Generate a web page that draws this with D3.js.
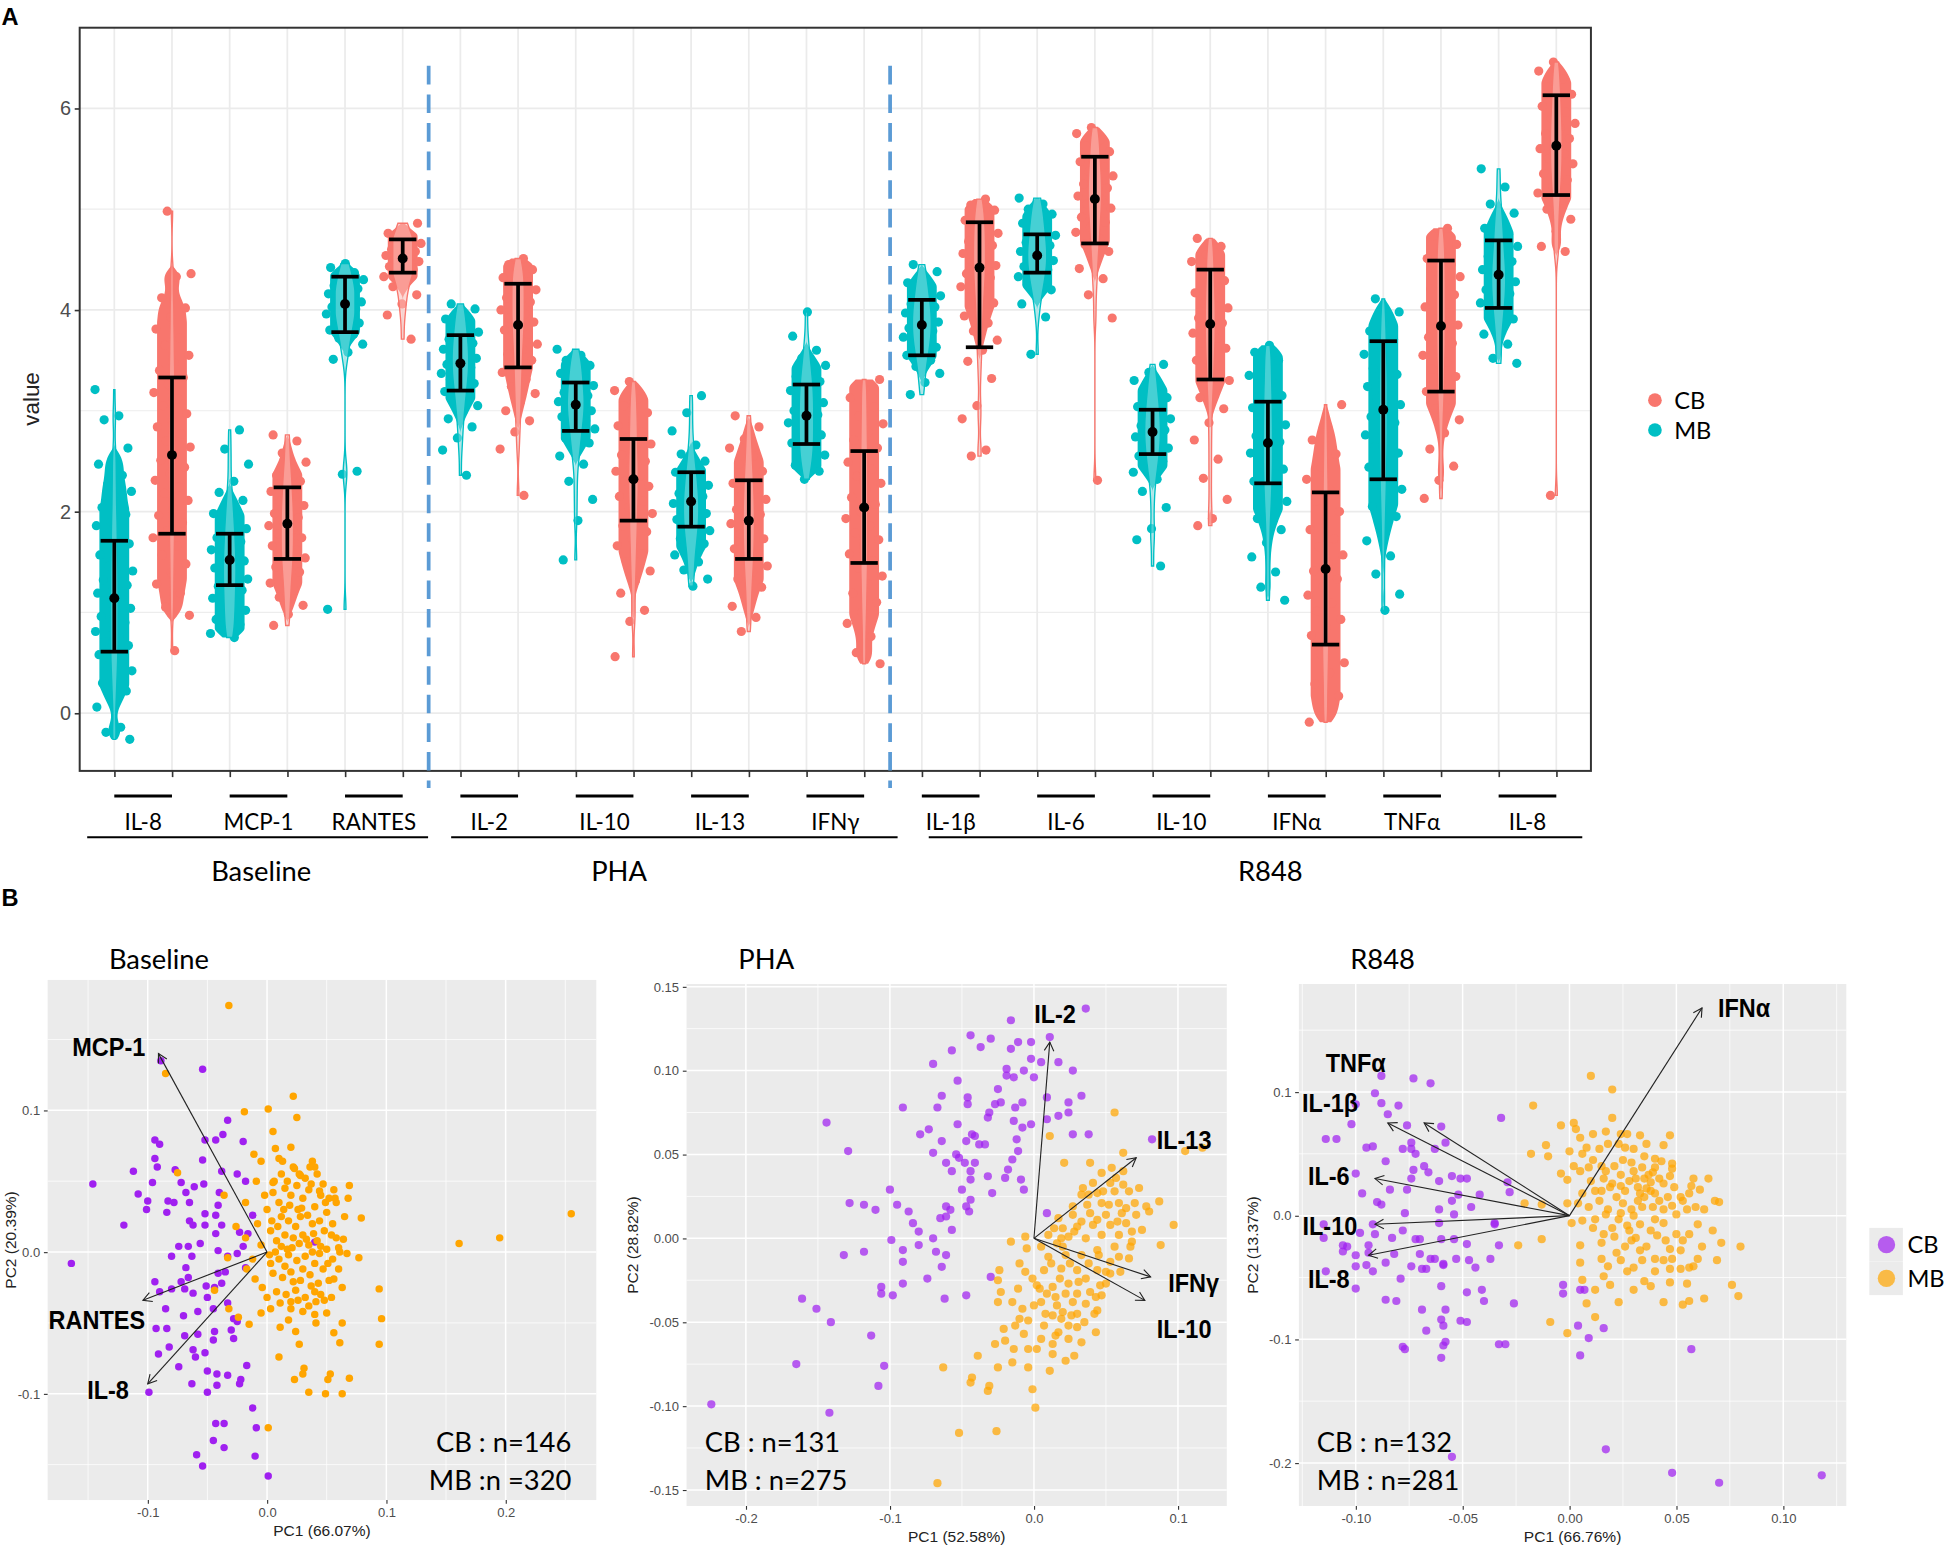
<!DOCTYPE html>
<html>
<head>
<meta charset="utf-8">
<script src="https://cdn.jsdelivr.net/npm/d3@7"></script>
<style>
  body { margin: 0; background: #fff; }
</style>
</head>
<body>
<script>
// ---------- panel A data ----------
var cytokines = ["IL-8", "MCP-1", "RANTES", "IL-2", "IL-10", "IL-13", "IFNγ", "IL-1β", "IL-6", "IL-10", "IFNα", "TNFα", "IL-8"];
var stimuli = ["Baseline", "PHA", "R848"];
var yTicksA = [0, 2, 4, 6];
var yMinorA = [1, 3, 5];

var mbMean = [1.14, 1.52, 4.06, 3.47, 3.06, 2.10, 2.95, 3.85, 4.54, 2.79, 2.68, 3.01, 4.35];
var mbLo   = [0.61, 1.27, 3.78, 3.20, 2.80, 1.85, 2.67, 3.55, 4.37, 2.57, 2.28, 2.32, 4.02];
var mbHi   = [1.71, 1.78, 4.33, 3.75, 3.28, 2.39, 3.26, 4.10, 4.75, 3.01, 3.09, 3.69, 4.69];
var cbMean = [2.56, 1.88, 4.51, 3.85, 2.32, 1.91, 2.04, 4.42, 5.10, 3.86, 1.43, 3.84, 5.63];
var cbLo   = [1.78, 1.53, 4.37, 3.43, 1.91, 1.53, 1.49, 3.63, 4.66, 3.31, 0.68, 3.19, 5.14];
var cbHi   = [3.33, 2.24, 4.70, 4.26, 2.72, 2.31, 2.60, 4.87, 5.52, 4.40, 2.19, 4.49, 6.13];

var mbIL8b = [3.21,2.95,2.91,2.63,2.52,2.47,2.36,2.27,2.20,2.13,2.04,1.97,1.90,1.86,1.79,1.72,1.68,1.61,1.57,1.51,1.46,1.41,1.38,1.32,1.27,1.22,1.19,1.13,1.09,1.04,0.99,0.96,0.90,0.85,0.81,0.76,0.71,0.67,0.62,0.58,0.53,0.47,0.42,0.36,0.30,0.22,0.13,0.06,-0.14,-0.19,-0.26];
var cbIL8b = [4.98,4.36,4.33,4.12,4.02,3.93,3.81,3.72,3.65,3.55,3.47,3.40,3.33,3.26,3.18,3.12,3.05,2.97,2.90,2.84,2.77,2.70,2.64,2.57,2.51,2.44,2.38,2.31,2.24,2.18,2.11,2.03,1.96,1.89,1.81,1.74,1.66,1.57,1.48,1.39,1.28,1.19,1.05,0.97,0.62];
var mbMCP1 = [2.81,2.62,2.47,2.30,2.19,2.11,2.05,1.98,1.93,1.88,1.83,1.79,1.74,1.70,1.66,1.62,1.58,1.55,1.51,1.47,1.44,1.40,1.37,1.33,1.30,1.26,1.22,1.18,1.14,1.10,1.06,1.02,0.98,0.93,0.88,0.83,0.79,0.75];
var cbMCP1 = [2.76,2.70,2.58,2.49,2.42,2.36,2.30,2.25,2.20,2.15,2.10,2.06,2.02,1.98,1.94,1.90,1.86,1.82,1.78,1.74,1.70,1.66,1.62,1.58,1.54,1.50,1.45,1.40,1.35,1.29,1.22,1.15,1.07,0.98,0.87];
var mbRANTES = [4.46,4.42,4.37,4.33,4.30,4.27,4.24,4.21,4.18,4.16,4.13,4.11,4.08,4.06,4.03,4.01,3.98,3.96,3.93,3.90,3.87,3.84,3.80,3.76,3.72,3.66,3.58,3.51,2.40,2.37,1.03];
var cbRANTES = [4.86,4.80,4.76,4.72,4.69,4.66,4.63,4.60,4.58,4.56,4.54,4.52,4.50,4.48,4.45,4.43,4.40,4.37,4.33,4.29,4.23,4.15,4.06,3.95,3.71];
var mbIL2 = [4.06,4.01,3.96,3.91,3.86,3.82,3.78,3.74,3.71,3.67,3.64,3.61,3.58,3.55,3.52,3.49,3.46,3.43,3.40,3.37,3.34,3.31,3.27,3.23,3.19,3.15,3.10,3.05,2.99,2.92,2.84,2.73,2.61,2.36];
var cbIL2 = [4.51,4.45,4.40,4.36,4.32,4.28,4.24,4.20,4.16,4.12,4.08,4.04,4.00,3.96,3.92,3.88,3.84,3.80,3.76,3.71,3.66,3.61,3.56,3.50,3.44,3.38,3.31,3.24,3.17,3.09,3.00,2.90,2.79,2.62,2.16];
var mbIL10p = [3.61,3.55,3.50,3.45,3.41,3.37,3.33,3.29,3.25,3.22,3.18,3.15,3.12,3.09,3.06,3.03,3.00,2.97,2.94,2.90,2.86,2.82,2.78,2.73,2.68,2.62,2.55,2.47,2.30,2.12,1.91,1.52];
var cbIL10p = [3.29,3.20,3.12,3.05,2.98,2.91,2.85,2.79,2.73,2.67,2.61,2.56,2.50,2.45,2.40,2.35,2.30,2.25,2.20,2.15,2.10,2.04,1.98,1.92,1.86,1.80,1.73,1.66,1.58,1.50,1.41,1.31,1.19,1.02,0.91,0.56];
var mbIL13 = [3.15,2.98,2.80,2.66,2.57,2.50,2.44,2.39,2.34,2.30,2.26,2.22,2.18,2.15,2.12,2.08,2.05,2.02,1.98,1.95,1.92,1.88,1.85,1.81,1.77,1.73,1.68,1.63,1.57,1.50,1.42,1.33,1.26];
var cbIL13 = [2.95,2.84,2.72,2.63,2.55,2.47,2.40,2.34,2.28,2.22,2.17,2.12,2.07,2.02,1.97,1.92,1.88,1.83,1.78,1.73,1.68,1.63,1.58,1.52,1.46,1.40,1.33,1.25,1.16,1.06,0.95,0.81];
var mbIFNg = [3.98,3.74,3.60,3.52,3.45,3.39,3.34,3.29,3.24,3.20,3.16,3.12,3.08,3.04,3.00,2.96,2.92,2.88,2.84,2.80,2.76,2.72,2.68,2.64,2.60,2.56,2.51,2.46,2.40,2.32];
var cbIFNg = [3.31,3.22,3.13,3.04,2.95,2.87,2.79,2.71,2.63,2.56,2.49,2.42,2.35,2.28,2.21,2.14,2.07,2.00,1.93,1.86,1.79,1.72,1.65,1.58,1.51,1.44,1.36,1.28,1.19,1.10,1.00,0.89,0.76,0.60,0.49];
var mbIL1b = [4.45,4.38,4.32,4.27,4.22,4.18,4.14,4.10,4.06,4.03,4.00,3.97,3.94,3.91,3.88,3.85,3.82,3.79,3.76,3.73,3.70,3.67,3.63,3.59,3.55,3.50,3.44,3.37,3.28,3.16];
var cbIL1b = [5.10,5.04,4.99,4.94,4.89,4.84,4.80,4.76,4.72,4.68,4.64,4.60,4.56,4.52,4.48,4.44,4.40,4.36,4.32,4.28,4.23,4.18,4.13,4.07,4.01,3.94,3.87,3.79,3.70,3.60,3.49,3.32,3.05,2.92,2.61,2.55];
var mbIL6 = [5.11,5.05,5.00,4.95,4.90,4.86,4.82,4.78,4.74,4.70,4.67,4.64,4.61,4.58,4.55,4.52,4.49,4.46,4.43,4.40,4.37,4.33,4.29,4.25,4.20,4.14,4.06,3.93,3.56];
var cbIL6 = [5.81,5.75,5.69,5.63,5.57,5.52,5.47,5.42,5.37,5.33,5.29,5.25,5.21,5.17,5.13,5.09,5.05,5.01,4.97,4.92,4.87,4.82,4.77,4.71,4.65,4.58,4.50,4.41,4.31,4.15,3.92,2.31];
var mbIL10r = [3.46,3.38,3.30,3.24,3.18,3.13,3.08,3.04,3.00,2.96,2.92,2.88,2.85,2.81,2.78,2.74,2.71,2.67,2.63,2.59,2.55,2.50,2.45,2.39,2.32,2.20,2.04,1.83,1.72,1.46];
var cbIL10r = [4.71,4.63,4.55,4.48,4.41,4.35,4.29,4.23,4.17,4.12,4.07,4.02,3.97,3.92,3.87,3.82,3.77,3.72,3.67,3.62,3.56,3.50,3.44,3.37,3.30,3.22,3.13,3.02,2.88,2.71,2.52,2.33,2.12,1.93,1.86];
var mbIFNa = [3.65,3.58,3.50,3.42,3.35,3.28,3.21,3.15,3.09,3.03,2.97,2.91,2.86,2.80,2.75,2.69,2.64,2.58,2.53,2.47,2.42,2.36,2.30,2.24,2.17,2.10,2.02,1.93,1.82,1.69,1.55,1.40,1.25,1.12];
var cbIFNa = [3.06,2.86,2.71,2.57,2.44,2.32,2.21,2.10,2.00,1.91,1.82,1.73,1.65,1.57,1.49,1.41,1.33,1.25,1.17,1.09,1.01,0.93,0.85,0.77,0.68,0.59,0.50,0.40,0.29,0.17,0.04,-0.09];
var mbTNFa = [4.11,3.98,3.88,3.79,3.71,3.63,3.56,3.49,3.42,3.36,3.30,3.24,3.18,3.12,3.06,3.00,2.94,2.88,2.82,2.76,2.70,2.64,2.58,2.51,2.44,2.37,2.30,2.22,2.14,2.05,1.95,1.84,1.71,1.56,1.38,1.18,1.02];
var cbTNFa = [4.81,4.73,4.65,4.58,4.51,4.45,4.39,4.33,4.27,4.21,4.15,4.09,4.03,3.97,3.91,3.85,3.79,3.73,3.67,3.61,3.55,3.48,3.41,3.34,3.27,3.19,3.11,3.02,2.91,2.78,2.62,2.45,2.31,2.13];
var mbIL8r = [5.40,5.22,5.05,4.96,4.88,4.81,4.75,4.69,4.63,4.58,4.53,4.48,4.44,4.40,4.36,4.32,4.28,4.24,4.20,4.16,4.12,4.07,4.02,3.97,3.91,3.84,3.76,3.66,3.52,3.47];
var cbIL8r = [6.46,6.37,6.29,6.21,6.14,6.08,6.02,5.96,5.90,5.85,5.80,5.75,5.70,5.65,5.60,5.55,5.50,5.45,5.40,5.35,5.29,5.23,5.16,5.09,5.00,4.90,4.78,4.63,4.58,2.16];

var mbVals = [mbIL8b, mbMCP1, mbRANTES, mbIL2, mbIL10p, mbIL13, mbIFNg, mbIL1b, mbIL6, mbIL10r, mbIFNa, mbTNFa, mbIL8r];
var cbVals = [cbIL8b, cbMCP1, cbRANTES, cbIL2, cbIL10p, cbIL13, cbIFNg, cbIL1b, cbIL6, cbIL10r, cbIFNa, cbTNFa, cbIL8r];

// ---------- panel B data (PC1, PC2) ----------
var b1CB = [[-0.164,-0.008],[-0.146,0.048],[-0.120,0.019],[-0.112,0.057],[-0.108,0.041],[-0.100,0.036],[-0.101,0.030],[-0.096,0.049],[-0.094,0.066],[-0.094,0.079],[-0.090,0.076],[-0.092,0.060],[-0.084,0.028],[-0.083,0.036],[-0.080,-0.003],[-0.077,0.058],[-0.078,0.035],[-0.072,0.049],[-0.068,0.042],[-0.061,0.046],[-0.065,0.022],[-0.062,0.019],[-0.065,0.035],[-0.054,0.065],[-0.054,0.129],[-0.052,0.079],[-0.053,0.048],[-0.052,0.027],[-0.052,0.019],[-0.056,0.006],[-0.074,0.004],[-0.066,0.004],[-0.063,-0.003],[-0.068,-0.011],[-0.066,-0.018],[-0.094,-0.021],[-0.090,-0.028],[-0.080,-0.026],[-0.072,-0.021],[-0.069,-0.026],[-0.062,-0.029],[-0.051,-0.024],[-0.050,-0.032],[-0.044,-0.025],[-0.041,-0.015],[-0.038,-0.022],[-0.035,-0.014],[-0.033,-0.003],[-0.041,0.001],[-0.043,0.013],[-0.038,0.019],[-0.043,0.026],[-0.041,0.033],[-0.040,0.042],[-0.038,0.057],[-0.037,0.083],[-0.033,0.093],[-0.043,0.079],[-0.025,0.055],[-0.020,0.078],[-0.018,0.050],[-0.023,0.014],[-0.020,0.004],[-0.025,-0.001],[-0.018,-0.011],[-0.085,-0.040],[-0.070,-0.045],[-0.058,-0.042],[-0.045,-0.040],[-0.033,-0.036],[-0.093,-0.054],[-0.084,-0.054],[-0.069,-0.059],[-0.058,-0.058],[-0.044,-0.056],[-0.030,-0.055],[-0.025,-0.049],[-0.091,-0.072],[-0.082,-0.067],[-0.062,-0.069],[-0.052,-0.071],[-0.045,-0.062],[-0.028,-0.061],[-0.074,-0.081],[-0.060,-0.074],[-0.050,-0.084],[-0.042,-0.086],[-0.033,-0.087],[-0.022,-0.090],[-0.017,-0.080],[-0.099,-0.099],[-0.063,-0.093],[-0.050,-0.099],[-0.042,-0.094],[-0.012,-0.110],[-0.043,-0.121],[-0.036,-0.121],[-0.009,-0.124],[-0.045,-0.133],[-0.036,-0.138],[-0.059,-0.143],[-0.054,-0.151],[-0.010,-0.144],[0.001,-0.158],[-0.089,0.135],[0.040,0.007],[-0.023,-0.093],[-0.028,-0.047],[-0.016,0.013],[-0.012,0.026]];
var b1MB = [[-0.032,0.174],[-0.085,0.126],[0.161,0.006],[0.195,0.010],[0.255,0.027],[-0.075,0.056],[-0.044,-0.027],[0.001,-0.124],[0.094,-0.026],[0.096,-0.047],[0.094,-0.065],[0.079,0.024],[0.069,0.047],[0.068,0.038],[0.022,0.110],[0.001,0.101],[-0.019,0.099],[0.025,0.095],[0.005,0.085],[0.020,0.074],[0.007,0.073],[-0.011,0.069],[-0.005,0.064],[0.013,0.064],[0.038,0.064],[0.040,0.060],[0.023,0.059],[-0.009,0.050],[0.005,0.049],[0.028,0.054],[0.044,0.043],[0.052,0.038],[0.057,0.038],[0.064,0.009],[0.067,-0.001],[0.077,-0.004],[0.060,0.003],[0.056,-0.019],[0.054,-0.032],[0.063,-0.050],[0.061,-0.064],[0.056,-0.057],[0.050,-0.043],[0.040,-0.044],[0.041,-0.035],[0.020,-0.035],[0.024,-0.056],[0.027,-0.065],[0.011,-0.053],[0.010,-0.074],[0.023,-0.090],[0.031,-0.082],[0.030,-0.086],[0.035,-0.099],[0.049,-0.100],[0.051,-0.090],[0.053,-0.086],[0.063,-0.100],[0.069,-0.089],[-0.015,-0.051],[-0.005,-0.043],[-0.024,-0.046],[0.000,-0.032],[-0.032,-0.040],[-0.036,0.040],[-0.018,0.035],[-0.026,0.018],[-0.018,0.010],[-0.033,-0.004],[-0.017,-0.012],[-0.010,-0.019],[0.000,0.030],[0.005,0.042],[0.010,0.035],[0.015,0.045],[0.020,0.040],[0.025,0.047],[0.030,0.038],[0.035,0.044],[0.040,0.032],[0.045,0.040],[0.050,0.028],[0.012,0.025],[0.018,0.022],[0.028,0.025],[0.038,0.020],[0.048,0.015],[0.055,0.020],[0.003,0.015],[0.008,0.008],[0.015,0.012],[0.022,0.010],[0.030,0.012],[0.035,0.005],[0.042,0.008],[0.050,0.002],[0.058,0.010],[-0.005,0.005],[0.002,-0.002],[0.010,-0.005],[0.018,-0.002],[0.025,-0.006],[0.032,-0.003],[0.040,-0.008],[0.047,-0.012],[0.055,-0.005],[0.005,-0.015],[0.013,-0.018],[0.020,-0.014],[0.028,-0.020],[0.036,-0.016],[0.043,-0.022],[0.052,-0.020],[0.008,-0.028],[0.016,-0.030],[0.024,-0.027],[0.032,-0.032],[0.040,-0.028],[0.048,-0.034],[0.020,-0.040],[0.030,-0.042],[0.012,0.055],[0.022,0.060],[0.032,0.052],[0.042,0.055],[0.006,0.050],[-0.008,0.020],[-0.012,-0.005],[0.060,-0.012],[0.065,0.025],[0.058,0.035],[0.003,-0.040],[0.036,0.060],[0.026,0.030],[0.017,0.002],[0.044,-0.001],[0.004,0.022],[0.009,0.018],[0.014,0.030],[0.019,0.033],[0.024,0.018],[0.029,0.031],[0.034,0.026],[0.039,0.013],[0.044,0.022],[0.049,0.035],[0.054,0.012],[0.007,0.000],[0.012,0.004],[0.021,0.003],[0.027,0.006],[0.033,0.009],[0.038,0.000],[0.045,0.004],[0.051,-0.008],[0.003,-0.008],[0.015,-0.010],[0.022,-0.021],[0.030,-0.012],[0.037,-0.024],[0.045,-0.030],[0.011,-0.036],[0.026,-0.034],[0.035,-0.038],[0.017,0.050],[0.027,0.055],[0.037,0.048],[0.047,0.048],[-0.002,0.040],[0.056,0.044],[0.061,0.000],[0.063,-0.025],[-0.004,-0.025],[0.018,-0.048],[0.041,-0.050],[0.010,0.066]];

var b2CB = [[-0.224,-0.099],[-0.142,-0.104],[-0.165,-0.075],[-0.104,-0.076],[-0.108,-0.088],[-0.113,-0.058],[-0.161,-0.036],[-0.151,-0.042],[-0.141,-0.050],[-0.144,0.069],[-0.129,0.052],[-0.132,-0.010],[-0.118,-0.008],[-0.128,0.021],[-0.118,0.020],[-0.110,0.017],[-0.100,0.029],[-0.095,0.020],[-0.091,-0.014],[-0.091,-0.007],[-0.099,-0.001],[-0.106,-0.029],[-0.106,-0.033],[-0.098,-0.034],[-0.091,-0.027],[-0.087,0.016],[-0.084,0.009],[-0.080,0.004],[-0.080,-0.004],[-0.074,-0.024],[-0.070,0.000],[-0.068,-0.008],[-0.065,0.012],[-0.064,-0.017],[-0.062,-0.036],[-0.061,-0.010],[-0.057,0.005],[-0.061,0.019],[-0.061,0.013],[-0.058,0.017],[-0.091,0.078],[-0.070,0.104],[-0.057,0.112],[-0.067,0.078],[-0.064,0.085],[-0.073,0.065],[-0.079,0.062],[-0.070,0.051],[-0.064,0.058],[-0.053,0.068],[-0.053,0.094],[-0.046,0.084],[-0.046,0.080],[-0.044,0.121],[-0.037,0.114],[-0.030,0.119],[-0.016,0.130],[-0.011,0.117],[-0.016,0.113],[-0.002,0.117],[0.011,0.120],[0.036,0.137],[0.017,0.105],[0.027,0.100],[-0.002,0.107],[0.005,0.105],[-0.007,0.100],[0.000,0.096],[-0.019,0.101],[-0.019,0.097],[-0.014,0.096],[-0.025,0.089],[-0.027,0.080],[-0.023,0.081],[-0.013,0.078],[-0.008,0.081],[-0.032,0.072],[-0.031,0.075],[-0.014,0.070],[-0.008,0.066],[-0.002,0.068],[0.009,0.084],[0.009,0.071],[0.017,0.073],[0.024,0.081],[0.024,0.075],[0.033,0.085],[0.027,0.062],[0.082,0.059],[0.038,0.062],[-0.043,0.062],[-0.047,0.058],[-0.054,0.050],[-0.061,0.045],[-0.057,0.040],[-0.052,0.048],[-0.048,0.045],[-0.044,0.040],[-0.041,0.061],[-0.038,0.056],[-0.041,0.045],[-0.034,0.056],[-0.032,0.037],[-0.029,0.027],[-0.044,0.035],[-0.050,0.029],[-0.047,0.019],[-0.045,0.016],[-0.044,0.023],[-0.020,0.036],[-0.015,0.047],[-0.011,0.052],[-0.012,0.059],[-0.009,0.035],[-0.007,0.029],[-0.018,0.041],[0.009,0.015],[-0.030,-0.023],[-0.047,-0.034]];
var b2MB = [[-0.067,-0.146],[-0.052,-0.116],[-0.026,-0.115],[0.001,-0.101],[-0.001,-0.090],[-0.032,-0.091],[-0.031,-0.088],[-0.044,-0.086],[-0.043,-0.083],[-0.063,-0.077],[-0.039,-0.070],[-0.025,-0.077],[0.011,0.061],[0.056,0.075],[0.062,0.051],[0.021,0.045],[0.039,0.045],[0.062,0.040],[0.105,0.052],[0.117,0.054],[0.097,0.008],[0.088,-0.004],[0.087,0.022],[0.078,0.019],[0.043,-0.056],[0.044,-0.043],[0.022,-0.073],[0.028,-0.070],[0.011,-0.079],[-0.004,-0.077],[-0.015,-0.074],[-0.014,-0.066],[-0.020,-0.061],[-0.027,-0.063],[-0.021,-0.054],[-0.016,-0.002],[-0.006,0.001],[-0.005,-0.006],[-0.024,-0.019],[-0.025,-0.025],[-0.023,-0.032],[-0.025,-0.038],[-0.015,-0.038],[-0.011,-0.030],[-0.008,-0.042],[-0.004,-0.049],[-0.007,-0.057],[0.002,-0.066],[0.013,-0.063],[0.007,-0.052],[0.017,-0.056],[0.024,-0.052],[0.030,-0.053],[0.026,-0.046],[0.013,-0.046],[0.005,-0.038],[0.016,-0.040],[0.027,-0.038],[0.036,-0.039],[0.039,-0.032],[0.046,-0.028],[0.050,-0.027],[0.036,-0.024],[0.024,-0.027],[0.013,-0.029],[-0.001,-0.024],[0.007,-0.019],[0.019,-0.018],[0.030,-0.019],[0.044,-0.019],[0.053,-0.014],[0.059,-0.011],[0.066,-0.012],[0.067,-0.005],[0.056,-0.005],[0.044,-0.007],[0.033,-0.010],[0.022,-0.010],[0.010,-0.011],[0.005,-0.005],[0.016,-0.003],[0.024,0.001],[0.036,0.000],[0.047,0.002],[0.059,0.002],[0.068,0.004],[0.064,0.009],[0.053,0.008],[0.041,0.008],[0.030,0.007],[0.020,0.006],[0.017,0.012],[0.027,0.014],[0.039,0.015],[0.050,0.014],[0.061,0.015],[0.071,0.014],[0.070,0.021],[0.059,0.021],[0.047,0.021],[0.037,0.020],[0.027,0.019],[0.033,0.026],[0.044,0.027],[0.056,0.028],[0.066,0.028],[0.053,0.033],[0.041,0.033],[0.034,0.030],[0.047,0.039],[0.057,0.036],[0.014,0.006],[0.019,0.000],[0.033,-0.062],[0.013,-0.069],[-0.004,-0.066],[0.047,-0.034],[0.053,-0.021],[-0.013,-0.052],[0.009,-0.033],[0.020,-0.044],[-0.010,-0.015],[0.002,-0.028],[0.012,-0.015],[0.018,-0.024],[0.025,-0.015],[0.031,-0.026],[0.038,-0.015],[0.045,-0.010],[0.050,-0.020],[0.015,-0.035],[0.022,-0.033],[0.030,-0.033],[0.043,-0.035],[0.008,-0.045],[0.019,-0.048],[0.030,-0.045],[0.035,-0.050],[0.004,-0.030],[0.010,0.002],[0.028,0.004],[0.033,0.010],[0.044,0.011],[0.052,0.020],[0.058,0.010],[0.064,0.018],[0.048,0.028],[0.038,0.026],[0.062,0.032],[0.054,0.042],[0.068,-0.002],[0.075,0.005],[0.080,0.016],[0.073,0.030],[0.024,-0.060],[0.000,-0.040],[-0.010,-0.048],[0.015,-0.058],[-0.006,-0.020],[0.005,-0.060],[0.042,-0.045],[0.060,-0.020],[0.020,-0.005]];

var b3CB = [[0.118,-0.210],[0.070,-0.216],[0.048,-0.208],[0.017,-0.189],[-0.055,-0.195],[0.057,-0.108],[0.005,-0.113],[0.009,-0.099],[0.004,-0.089],[0.016,-0.091],[-0.003,-0.056],[-0.003,-0.063],[0.005,-0.060],[0.007,-0.060],[-0.032,0.079],[-0.088,0.113],[-0.073,0.111],[-0.065,0.107],[-0.091,0.099],[-0.088,0.091],[-0.080,0.089],[-0.085,0.082],[-0.100,0.090],[-0.102,0.074],[-0.076,0.073],[-0.060,0.072],[-0.114,0.062],[-0.109,0.062],[-0.095,0.055],[-0.092,0.056],[-0.074,0.059],[-0.074,0.054],[-0.063,0.054],[-0.058,0.059],[-0.078,0.054],[-0.072,0.050],[-0.086,0.044],[-0.068,0.040],[-0.066,0.035],[-0.073,0.037],[-0.100,0.034],[-0.074,0.030],[-0.061,0.028],[-0.055,0.032],[-0.051,0.030],[-0.048,0.030],[-0.029,0.027],[-0.028,0.019],[-0.084,0.021],[-0.097,0.018],[-0.076,0.021],[-0.052,0.017],[-0.042,0.017],[-0.055,0.012],[-0.061,0.005],[-0.046,0.007],[-0.054,0.001],[-0.035,-0.006],[-0.090,0.011],[-0.088,0.009],[-0.077,0.002],[-0.115,-0.007],[-0.092,-0.007],[-0.061,-0.006],[-0.035,-0.007],[-0.098,-0.014],[-0.091,-0.015],[-0.078,-0.012],[-0.083,-0.018],[-0.072,-0.019],[-0.070,-0.019],[-0.060,-0.019],[-0.054,-0.019],[-0.048,-0.023],[-0.033,-0.024],[-0.106,-0.024],[-0.104,-0.025],[-0.094,-0.024],[-0.106,-0.029],[-0.094,-0.030],[-0.082,-0.031],[-0.070,-0.031],[-0.063,-0.035],[-0.065,-0.035],[-0.059,-0.039],[-0.053,-0.035],[-0.047,-0.036],[-0.037,-0.035],[-0.095,-0.040],[-0.092,-0.045],[-0.086,-0.038],[-0.074,-0.041],[-0.069,-0.043],[-0.067,-0.043],[-0.059,-0.040],[-0.044,-0.042],[-0.114,-0.045],[-0.100,-0.059],[-0.079,-0.051],[-0.060,-0.057],[-0.048,-0.062],[-0.041,-0.060],[-0.040,-0.069],[-0.026,-0.071],[-0.086,-0.068],[-0.081,-0.069],[-0.069,-0.076],[-0.060,-0.084],[-0.059,-0.089],[-0.067,-0.093],[-0.058,-0.076],[-0.051,-0.085],[-0.048,-0.086],[-0.058,-0.102],[-0.059,-0.105],[-0.060,-0.115],[-0.078,-0.106],[-0.077,-0.108],[-0.033,-0.104],[-0.030,-0.104],[-0.100,-0.032],[-0.100,-0.041],[-0.115,-0.018]];
var b3MB = [[0.010,0.113],[0.020,0.102],[-0.017,0.089],[0.020,0.079],[-0.004,0.073],[0.002,0.075],[0.003,0.070],[0.005,0.063],[0.011,0.066],[0.017,0.068],[0.024,0.066],[0.027,0.066],[0.033,0.065],[0.047,0.065],[-0.011,0.057],[-0.018,0.050],[-0.010,0.048],[0.000,0.052],[0.006,0.050],[0.008,0.055],[0.014,0.054],[0.018,0.058],[0.023,0.058],[0.030,0.054],[0.035,0.048],[0.040,0.046],[0.044,0.057],[0.048,0.042],[0.048,0.038],[0.040,0.039],[-0.004,0.034],[-0.001,0.029],[0.005,0.036],[0.009,0.039],[0.017,0.036],[0.024,0.033],[0.030,0.036],[0.034,0.039],[0.037,0.033],[0.065,0.030],[0.057,0.024],[0.061,0.021],[0.056,0.018],[0.052,0.015],[0.068,0.012],[0.070,0.011],[-0.021,0.010],[-0.013,0.009],[-0.001,0.010],[0.004,0.010],[0.009,0.007],[0.015,0.020],[0.019,0.023],[0.026,0.020],[0.032,0.023],[0.038,0.020],[0.044,0.026],[0.049,0.023],[0.001,-0.006],[0.006,-0.004],[0.012,-0.003],[0.017,0.001],[0.024,0.002],[0.029,0.005],[0.034,0.007],[0.039,0.007],[0.044,0.005],[0.050,0.001],[0.055,0.005],[0.059,0.007],[0.005,-0.024],[0.015,-0.022],[0.021,-0.017],[0.028,-0.012],[0.033,-0.007],[0.038,-0.012],[0.044,-0.006],[0.050,-0.015],[0.056,-0.015],[0.060,-0.007],[0.067,-0.012],[0.071,-0.022],[0.080,-0.025],[-0.024,-0.024],[-0.013,-0.019],[0.015,-0.035],[0.018,-0.041],[0.024,-0.036],[0.030,-0.042],[0.034,-0.036],[0.040,-0.035],[0.048,-0.035],[0.052,-0.028],[0.056,-0.042],[0.060,-0.035],[0.069,-0.036],[0.047,-0.043],[0.052,-0.043],[0.058,-0.041],[0.005,-0.038],[0.006,-0.052],[0.016,-0.049],[0.019,-0.056],[0.035,-0.053],[0.038,-0.057],[0.047,-0.054],[0.055,-0.055],[0.063,-0.067],[0.076,-0.056],[0.079,-0.065],[0.008,-0.071],[0.023,-0.070],[0.044,-0.070],[0.053,-0.072],[0.056,-0.069],[-0.009,-0.086],[-0.001,-0.095],[0.012,-0.082],[0.025,0.010],[0.030,0.000],[0.035,0.015],[0.040,-0.003],[0.028,0.028],[0.033,0.018],[0.038,0.027],[0.022,0.015],[0.018,0.005],[0.027,-0.008],[0.042,0.012],[0.031,-0.018],[0.036,-0.025],[0.045,-0.020],[0.026,-0.025],[0.020,-0.010],[0.012,0.020],[0.015,0.040],[0.025,0.045],[0.035,0.030],[0.016,0.030],[0.021,0.040],[0.029,0.043],[0.039,0.035],[0.043,0.044],[0.010,0.028],[0.020,0.026],[0.031,0.030],[0.042,0.030],[0.047,0.032],[0.014,0.012],[0.024,0.024],[0.036,0.022],[0.046,0.015],[0.053,0.012],[0.011,-0.010],[0.023,-0.003],[0.032,0.012],[0.040,0.018],[0.048,0.008],[0.016,-0.015],[0.029,-0.020],[0.041,-0.016],[0.047,-0.027],[0.053,-0.020],[0.022,-0.030],[0.033,-0.028],[0.044,-0.036],[0.027,-0.045],[0.040,-0.045],[0.006,0.018],[0.002,0.040],[0.011,0.045],[0.026,0.055],[0.036,0.058],[0.058,0.030],[0.063,0.005],[0.062,-0.025],[0.012,-0.060],[0.030,-0.060]];

// loading arrows [label, PC1, PC2]
var b1Arrows = [["MCP-1", -0.091, 0.140], ["RANTES", -0.104, -0.034], ["IL-8", -0.100, -0.093]];
var b2Arrows = [["IL-2", 0.011, 0.117], ["IL-13", 0.071, 0.048], ["IFNγ", 0.081, -0.023], ["IL-10", 0.077, -0.037]];
var b3Arrows = [["TNFα", -0.068, 0.075], ["IL-1β", -0.085, 0.075], ["IL-6", -0.091, 0.030], ["IL-10", -0.091, -0.007], ["IL-8", -0.094, -0.032], ["IFNα", 0.062, 0.168]];

var b1XTicks = [-0.1, 0, 0.1, 0.2], b1YTicks = [-0.1, 0, 0.1];
var b2XTicks = [-0.2, -0.1, 0, 0.1], b2YTicks = [-0.15, -0.10, -0.05, 0, 0.05, 0.10, 0.15];
var b3XTicks = [-0.10, -0.05, 0, 0.05, 0.10], b3YTicks = [-0.2, -0.1, 0, 0.1];

// ---------- drawing ----------
var colCB = "#F8766D", colMB = "#00BFC4";
var purple = "#A020F0", orange = "#FFA500";
var arial = "'Liberation Sans', Arial, sans-serif";
var calib = "Lato, 'Open Sans', sans-serif";

var svg = d3.select("body").append("svg")
  .attr("width", 1949).attr("height", 1551)
  .attr("viewBox", "0 0 1568 1248")
  .style("font-family", calib);

var xA = d3.scaleLinear().domain([-0.6, 25.6]).range([64, 1280]);
var yA = d3.scaleLinear().domain([-0.573, 6.80]).range([620.3, 22.3]);
var gA = svg.append("g");

svg.append("text").attr("x", 1).attr("y", 20).text("A")
  .style("font-family", arial).style("font-weight", "bold").style("font-size", "19px");

// grid
gA.selectAll(".gy").data(yMinorA).enter().append("line")
  .attr("x1", 64).attr("x2", 1280).attr("y1", d => yA(d)).attr("y2", d => yA(d))
  .attr("stroke", "#EDEDED").attr("stroke-width", 0.9);
gA.selectAll(".gY").data(yTicksA).enter().append("line")
  .attr("x1", 64).attr("x2", 1280).attr("y1", d => yA(d)).attr("y2", d => yA(d))
  .attr("stroke", "#EBEBEB").attr("stroke-width", 1.4);
gA.selectAll(".gX").data(d3.range(26)).enter().append("line")
  .attr("x1", d => xA(d)).attr("x2", d => xA(d)).attr("y1", 22.3).attr("y2", 620.3)
  .attr("stroke", "#EBEBEB").attr("stroke-width", 1.4);

function density(vals, y, h) {
  return d3.mean(vals, v => Math.exp(-0.5 * Math.pow((y - v) / h, 2))) / (h * Math.sqrt(2 * Math.PI));
}
function profile(vals, h) {
  var lo = d3.min(vals), hi = d3.max(vals);
  var ys = d3.range(lo, hi, 0.02).concat([hi]);
  return ys.map(y => ({ v: y, d: density(vals, y, h) }));
}
function jitter(j, k) {
  return (((j * 0.618034 + k * 0.377) % 1) - 0.5) * 31;
}

function drawGroup(slot, vals, mean, lo, hi, color) {
  var cx = xA(slot);
  var prof = profile(vals, 0.12);
  var maxD = d3.max(prof, p => p.d);
  var bw = p => 12 * Math.max(0, Math.min(1, (p.d / maxD - 0.32) / 0.33));
  var body = d3.area().curve(d3.curveBasis)
    .y(p => yA(p.v)).x0(p => cx - bw(p)).x1(p => cx + bw(p));
  gA.append("path").datum(prof).attr("d", body).attr("fill", color);

  gA.selectAll(null).data(vals).enter().append("circle")
    .attr("cx", (v, j) => cx + jitter(j, slot))
    .attr("cy", v => yA(v))
    .attr("r", 3.7)
    .attr("fill", color);

  var vw = p => Math.min(8, 7 * p.d);
  var vio = d3.area().curve(d3.curveBasis)
    .y(p => yA(p.v)).x0(p => cx - vw(p)).x1(p => cx + vw(p));
  gA.append("path").datum(prof).attr("d", vio)
    .attr("fill", d3.interpolateRgb(color, "#fff")(0.5)).attr("fill-opacity", 0.55)
    .attr("stroke", color).attr("stroke-width", 1.1);

  var eb = gA.append("g").attr("stroke", "#000").attr("stroke-width", 3);
  eb.append("line").attr("x1", cx).attr("x2", cx).attr("y1", yA(lo)).attr("y2", yA(hi));
  eb.append("line").attr("x1", cx - 11).attr("x2", cx + 11).attr("y1", yA(lo)).attr("y2", yA(lo));
  eb.append("line").attr("x1", cx - 11).attr("x2", cx + 11).attr("y1", yA(hi)).attr("y2", yA(hi));
  gA.append("circle").attr("cx", cx).attr("cy", yA(mean)).attr("r", 4).attr("fill", "#000");
}

cytokines.forEach(function(name, i) {
  drawGroup(2 * i, mbVals[i], mbMean[i], mbLo[i], mbHi[i], colMB);
  drawGroup(2 * i + 1, cbVals[i], cbMean[i], cbLo[i], cbHi[i], colCB);
});

// panel border and axes
gA.append("rect").attr("x", 64).attr("y", 22.3).attr("width", 1216).attr("height", 598)
  .attr("fill", "none").attr("stroke", "#333").attr("stroke-width", 1.6);

var yAxA = gA.append("g").attr("transform", "translate(64,0)")
  .call(d3.axisLeft(yA).tickValues(yTicksA).tickSize(4).tickFormat(d3.format("d")));
var xAxA = gA.append("g").attr("transform", "translate(0,620.3)")
  .call(d3.axisBottom(xA).tickValues(d3.range(26)).tickSize(5).tickFormat(""));
[yAxA, xAxA].forEach(function(ax) {
  ax.select(".domain").remove();
  ax.selectAll("line").attr("stroke", "#333").attr("stroke-width", 1.3);
  ax.selectAll("text").attr("fill", "#4D4D4D").style("font-size", "16px").style("font-family", arial);
});

svg.append("text").attr("transform", "translate(31,321) rotate(-90)")
  .attr("text-anchor", "middle").text("value")
  .style("font-family", arial).style("font-size", "18px").attr("fill", "#222");

// dashed separators
[5.45, 13.45].forEach(function(s) {
  svg.append("line").attr("x1", xA(s)).attr("x2", xA(s)).attr("y1", 53).attr("y2", 634)
    .attr("stroke", "#5B9BD5").attr("stroke-width", 3).attr("stroke-dasharray", "15,8");
});

// category annotations below axis
cytokines.forEach(function(name, i) {
  svg.append("line").attr("x1", xA(2 * i)).attr("x2", xA(2 * i + 1)).attr("y1", 640.5).attr("y2", 640.5)
    .attr("stroke", "#000").attr("stroke-width", 2.5);
  svg.append("text").attr("x", xA(2 * i + 0.5)).attr("y", 668).attr("text-anchor", "middle")
    .style("font-size", "18px").text(name);
});
var groupSpan = [[-0.47, 5.44], [5.84, 13.58], [14.12, 25.45]];
var groupLabelX = [210, 498, 1022];
stimuli.forEach(function(s, i) {
  svg.append("line").attr("x1", xA(groupSpan[i][0])).attr("x2", xA(groupSpan[i][1]))
    .attr("y1", 673.6).attr("y2", 673.6).attr("stroke", "#000").attr("stroke-width", 1.6);
  svg.append("text").attr("x", groupLabelX[i]).attr("y", 709).attr("text-anchor", "middle")
    .style("font-size", "22px").text(s);
});

// legend A
[["CB", colCB, 322], ["MB", colMB, 346]].forEach(function(l) {
  svg.append("circle").attr("cx", 1331.5).attr("cy", l[2]).attr("r", 5.5).attr("fill", l[1]);
  svg.append("text").attr("x", 1347).attr("y", l[2] + 7).style("font-size", "19px").text(l[0]);
});

svg.append("text").attr("x", 1).attr("y", 729).text("B")
  .style("font-family", arial).style("font-weight", "bold").style("font-size", "19px");

// ---------- PCA panels ----------
function mids(t) {
  var step = t[1] - t[0], out = [];
  for (var i = -1; i < t.length; i++) out.push(t[0] + (i + 0.5) * step);
  return out;
}

function pcaPanel(p) {
  var x = d3.scaleLinear().domain(p.xDom).range([p.left, p.right]);
  var y = d3.scaleLinear().domain(p.yDom).range([p.bottom, p.top]);
  var g = svg.append("g");
  g.append("rect").attr("x", p.left).attr("y", p.top)
    .attr("width", p.right - p.left).attr("height", p.bottom - p.top).attr("fill", "#EBEBEB");

  var xm = mids(p.xTicks).filter(v => v > p.xDom[0] && v < p.xDom[1]);
  var ym = mids(p.yTicks).filter(v => v > p.yDom[0] && v < p.yDom[1]);
  g.selectAll(".mx").data(xm).enter().append("line")
    .attr("x1", d => x(d)).attr("x2", d => x(d)).attr("y1", p.top).attr("y2", p.bottom)
    .attr("stroke", "#fff").attr("stroke-width", 0.6);
  g.selectAll(".my").data(ym).enter().append("line")
    .attr("y1", d => y(d)).attr("y2", d => y(d)).attr("x1", p.left).attr("x2", p.right)
    .attr("stroke", "#fff").attr("stroke-width", 0.6);
  g.selectAll(".Mx").data(p.xTicks).enter().append("line")
    .attr("x1", d => x(d)).attr("x2", d => x(d)).attr("y1", p.top).attr("y2", p.bottom)
    .attr("stroke", "#fff").attr("stroke-width", 1.2);
  g.selectAll(".My").data(p.yTicks).enter().append("line")
    .attr("y1", d => y(d)).attr("y2", d => y(d)).attr("x1", p.left).attr("x2", p.right)
    .attr("stroke", "#fff").attr("stroke-width", 1.2);

  var ax1 = g.append("g").attr("transform", "translate(0," + p.bottom + ")")
    .call(d3.axisBottom(x).tickValues(p.xTicks).tickSize(3).tickPadding(3).tickFormat(d => d.toFixed(p.xDec)));
  var ax2 = g.append("g").attr("transform", "translate(" + p.left + ",0)")
    .call(d3.axisLeft(y).tickValues(p.yTicks).tickSize(3).tickPadding(3).tickFormat(d => d.toFixed(p.yDec)));
  [ax1, ax2].forEach(function(ax) {
    ax.select(".domain").remove();
    ax.selectAll("line").attr("stroke", "#333").attr("stroke-width", 0.9);
    ax.selectAll("text").attr("fill", "#4D4D4D").style("font-size", "10.5px").style("font-family", arial);
  });

  g.append("text").attr("x", (p.left + p.right) / 2).attr("y", p.bottom + 29).attr("text-anchor", "middle")
    .style("font-family", arial).style("font-size", "12.5px").attr("fill", "#222").text(p.xLab);
  g.append("text").attr("transform", "translate(" + p.yLabX + "," + (p.top + p.bottom) / 2 + ") rotate(-90)")
    .attr("text-anchor", "middle")
    .style("font-family", arial).style("font-size", "12.5px").attr("fill", "#222").text(p.yLab);

  g.selectAll(".cb").data(p.cb).enter().append("circle")
    .attr("cx", d => x(d[0])).attr("cy", d => y(d[1])).attr("r", p.r)
    .attr("fill", purple).attr("fill-opacity", p.alpha);
  g.selectAll(".mb").data(p.mb).enter().append("circle")
    .attr("cx", d => x(d[0])).attr("cy", d => y(d[1])).attr("r", p.r)
    .attr("fill", orange).attr("fill-opacity", p.alpha);

  p.arrows.forEach(function(a, i) {
    var x0 = x(0), y0 = y(0), x1 = x(a[1]), y1 = y(a[2]);
    var ang = Math.atan2(y1 - y0, x1 - x0), L = 8;
    g.append("line").attr("x1", x0).attr("y1", y0).attr("x2", x1).attr("y2", y1)
      .attr("stroke", "#222").attr("stroke-width", 0.9);
    g.append("path")
      .attr("d", "M" + (x1 - L * Math.cos(ang - 0.5)) + "," + (y1 - L * Math.sin(ang - 0.5)) +
        "L" + x1 + "," + y1 + "L" + (x1 - L * Math.cos(ang + 0.5)) + "," + (y1 - L * Math.sin(ang + 0.5)))
      .attr("fill", "none").attr("stroke", "#222").attr("stroke-width", 0.9);
    var lp = p.labelPos[i];
    g.append("text").attr("transform", "translate(" + lp[0] + "," + lp[1] + ") scale(0.9,1)")
      .style("font-family", arial).style("font-weight", "bold").style("font-size", "21px")
      .text(a[0]);
  });

  g.append("text").attr("x", p.titleX).attr("y", 780).style("font-size", "22px").text(p.title);
  p.nText.forEach(function(t, i) {
    g.append("text").attr("x", p.nX).attr("y", [1168, 1199][i]).attr("text-anchor", p.nAnchor)
      .style("font-size", "22px").text(t);
  });
}

pcaPanel({
  left: 38.2, right: 479.7, top: 788.5, bottom: 1207,
  xDom: [-0.1839, 0.276], yDom: [-0.175, 0.192],
  xTicks: b1XTicks, yTicks: b1YTicks, xDec: 1, yDec: 1,
  cb: b1CB, mb: b1MB, r: 3.0, alpha: 1,
  arrows: b1Arrows, labelPos: [[58, 850], [39, 1069.5], [70, 1126]],
  title: "Baseline", titleX: 87.5,
  xLab: "PC1 (66.07%)", yLab: "PC2 (20.39%)", yLabX: 13,
  nText: ["CB : n=146", "MB :n =320"], nX: 459.6, nAnchor: "end"
});
pcaPanel({
  left: 552.3, right: 987, top: 791.8, bottom: 1211.8,
  xDom: [-0.2412, 0.1339], yDom: [-0.1596, 0.1516],
  xTicks: b2XTicks, yTicks: b2YTicks, xDec: 1, yDec: 2,
  cb: b2CB, mb: b2MB, r: 3.3, alpha: 0.72,
  arrows: b2Arrows, labelPos: [[832, 823], [930.6, 924.4], [939.8, 1039.7], [930.6, 1076.3]],
  title: "PHA", titleX: 594,
  xLab: "PC1 (52.58%)", yLab: "PC2 (28.82%)", yLabX: 513,
  nText: ["CB : n=131", "MB : n=275"], nX: 567, nAnchor: "start"
});
pcaPanel({
  left: 1045, right: 1485.5, top: 791.8, bottom: 1211.8,
  xDom: [-0.1266, 0.1295], yDom: [-0.2348, 0.1873],
  xTicks: b3XTicks, yTicks: b3YTicks, xDec: 2, yDec: 1,
  cb: b3CB, mb: b3MB, r: 3.3, alpha: 0.72,
  arrows: b3Arrows,
  labelPos: [[1066.6, 862.9], [1047.6, 894.8], [1052.3, 953.7], [1047.9, 993.5], [1052.3, 1036.5], [1382.2, 818.3]],
  title: "R848", titleX: 1086.3,
  xLab: "PC1 (66.76%)", yLab: "PC2 (13.37%)", yLabX: 1012,
  nText: ["CB : n=132", "MB : n=281"], nX: 1059.4, nAnchor: "start"
});

// legend B
[["CB", purple, 1001.5], ["MB", orange, 1028.6]].forEach(function(l) {
  svg.append("rect").attr("x", 1504).attr("y", l[2] - 13.5).attr("width", 27).attr("height", 27).attr("fill", "#EBEBEB");
  svg.append("circle").attr("cx", 1517.8).attr("cy", l[2]).attr("r", 7).attr("fill", l[1]).attr("fill-opacity", 0.7);
  svg.append("text").attr("x", 1534.7).attr("y", l[2] + 7).style("font-size", "19px").text(l[0]);
});
</script>
</body>
</html>
